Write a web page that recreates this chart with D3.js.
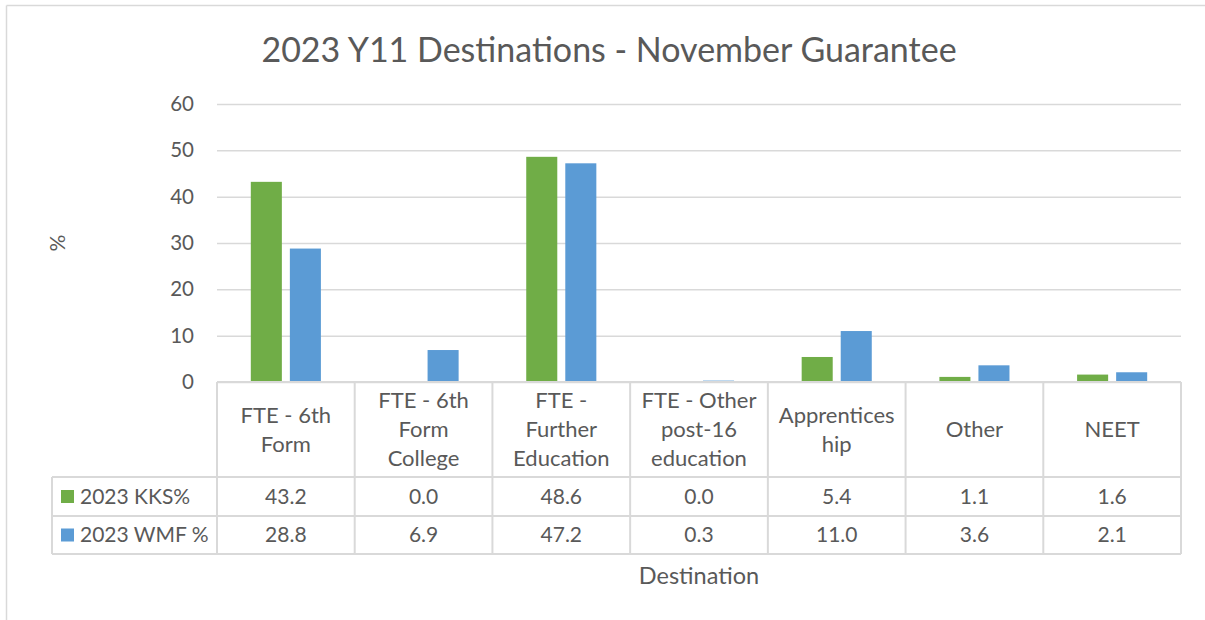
<!DOCTYPE html>
<html>
<head>
<meta charset="utf-8">
<script src="https://cdn.jsdelivr.net/npm/d3@7"></script>
<style>
  html, body { margin: 0; padding: 0; background: #fff; }
  svg { display: block; }
  text { font-family: Lato, "Open Sans", sans-serif; fill: #595959; }
</style>
</head>
<body>
<svg id="chart" width="1205" height="620"></svg>
<script>
const categories = ["FTE - 6th\nForm", "FTE - 6th\nForm\nCollege", "FTE -\nFurther\nEducation", "FTE - Other\npost-16\neducation", "Apprentices\nhip", "Other", "NEET"];
const seriesNames = ["2023 KKS%", "2023 WMF %"];
const kks = [43.2, 0.0, 48.6, 0.0, 5.4, 1.1, 1.6];
const wmf = [28.8, 6.9, 47.2, 0.3, 11.0, 3.6, 2.1];
const yTicks = [0, 10, 20, 30, 40, 50, 60];
const colors = ["#70AD47", "#5B9BD5"];
const title = "2023 Y11 Destinations - November Guarantee";
const xTitle = "Destination";
const yTitle = "%";

(function () {
const series = [kks, wmf];
const svg = d3.select("#chart");
const pLeft = 217, pRight = 1181, pTop = 104, base = 382;
const grid = "#D9D9D9";

// frame
svg.append("line").attr("x1", 6.5).attr("x2", 6.5).attr("y1", 5.5).attr("y2", 620).attr("stroke", grid).attr("stroke-width", 1.5);
svg.append("line").attr("x1", 6.5).attr("x2", 1205).attr("y1", 5.5).attr("y2", 5.5).attr("stroke", grid).attr("stroke-width", 1.5);

const x = d3.scaleBand().domain(categories).range([pLeft, pRight]).paddingInner(0).paddingOuter(0);
const bw = x.bandwidth();
const x1 = d3.scaleBand().domain([0, 1]).range([bw * 0.2455, bw * 0.7545]).paddingInner(0.205);
const y = d3.scaleLinear().domain([0, 60]).range([base, pTop]);

// title
svg.append("text").attr("x", 609).attr("y", 62).attr("text-anchor", "middle")
  .style("font-size", "34px").text(title);

// gridlines + y axis
const yAxis = d3.axisLeft(y).tickValues(yTicks).tickSize(-(pRight - pLeft)).tickPadding(23).tickFormat(d3.format("d"));
const gy = svg.append("g").attr("transform", `translate(${pLeft},0)`).call(yAxis);
gy.select(".domain").remove();
gy.selectAll(".tick line").attr("stroke", grid).attr("stroke-width", 1.5);
gy.selectAll(".tick text").style("font-size", "20.5px").style("font-family", "Lato, sans-serif").attr("fill", "#595959");

// bars
series.forEach((vals, si) => {
  svg.append("g").selectAll("rect").data(vals).join("rect")
    .attr("x", (d, i) => x(categories[i]) + x1(si))
    .attr("width", x1.bandwidth())
    .attr("y", d => y(d))
    .attr("height", d => base - y(d))
    .attr("fill", colors[si]);
});

// table
const rowBottom = 554;
const tbl = svg.append("g").attr("stroke", grid).attr("stroke-width", 2);
tbl.append("line").attr("x1", pLeft).attr("x2", pRight).attr("y1", base).attr("y2", base);
[477, 516, 554].forEach(yy => tbl.append("line").attr("x1", 52).attr("x2", pRight).attr("y1", yy).attr("y2", yy));
tbl.append("line").attr("x1", 52).attr("x2", 52).attr("y1", 477).attr("y2", rowBottom);
categories.forEach(c => tbl.append("line").attr("x1", x(c)).attr("x2", x(c)).attr("y1", base).attr("y2", rowBottom));
tbl.append("line").attr("x1", pRight).attr("x2", pRight).attr("y1", base).attr("y2", rowBottom);

// header labels
const lh = 29;
categories.forEach(c => {
  const lines = c.split("\n");
  const cx = x(c) + bw / 2;
  const cy = (base + 477) / 2;
  const t = svg.append("text").attr("text-anchor", "middle").style("font-size", "22px");
  lines.forEach((ln, k) => {
    t.append("tspan").attr("x", cx).attr("y", cy + (k - (lines.length - 1) / 2) * lh).attr("dy", "0.35em").text(ln);
  });
});

// value rows + legend
series.forEach((vals, si) => {
  const cy = (si === 0 ? (477 + 516) / 2 : (516 + 554) / 2);
  svg.append("rect").attr("x", 61).attr("y", cy - 6.5).attr("width", 13).attr("height", 13).attr("fill", colors[si]);
  svg.append("text").attr("x", 80).attr("y", cy).attr("dy", "0.35em").style("font-size", "21px").text(seriesNames[si]);
  vals.forEach((v, i) => {
    svg.append("text").attr("x", x(categories[i]) + bw / 2).attr("y", cy).attr("dy", "0.35em")
      .attr("text-anchor", "middle").style("font-size", "21px").text(d3.format(".1f")(v));
  });
});

// axis titles
svg.append("text").attr("x", (pLeft + pRight) / 2).attr("y", 576).attr("dy", "0.35em").attr("text-anchor", "middle")
  .style("font-size", "23.5px").text(xTitle);
svg.append("text").attr("transform", `translate(58,${(pTop + base) / 2}) rotate(-90)`).attr("dy", "0.35em")
  .attr("text-anchor", "middle").style("font-size", "21px").text(yTitle);
})();
</script>
</body>
</html>
